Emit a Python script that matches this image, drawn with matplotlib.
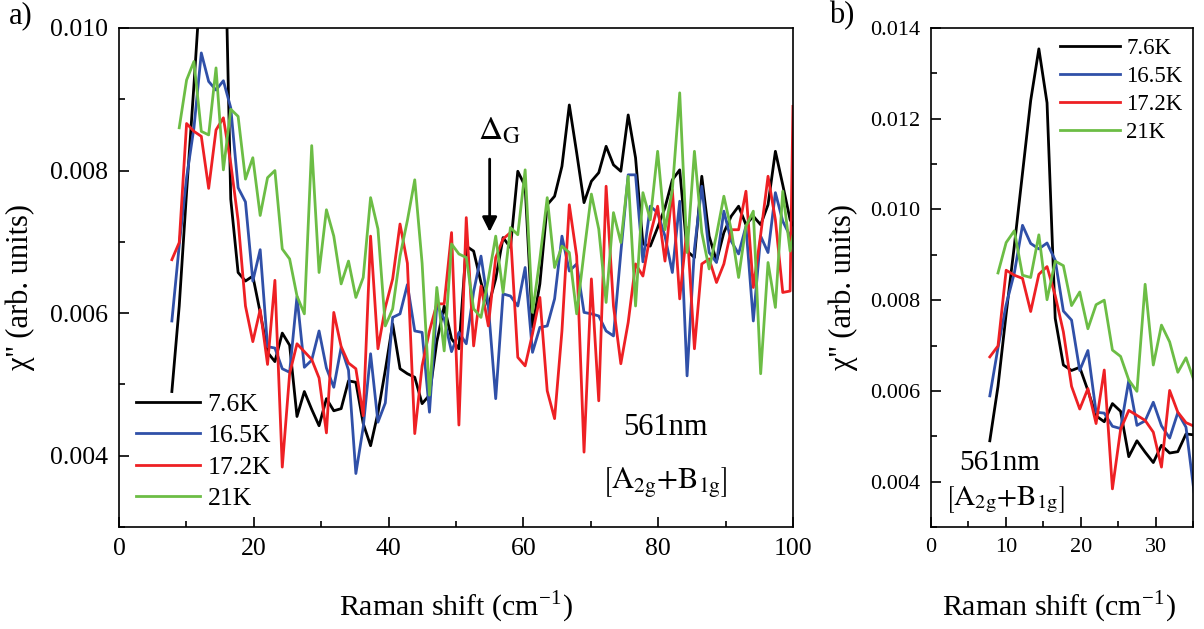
import numpy as np
import matplotlib
matplotlib.use('Agg')
import matplotlib.pyplot as plt
from matplotlib.ticker import MultipleLocator, FormatStrFormatter

plt.rcParams['font.family'] = ['Liberation Serif', 'DejaVu Serif']
plt.rcParams['mathtext.fontset'] = 'stix'

# Raman shift grid (cm-1), last point sits on the right edge
shift = np.append(7.85 + 1.092 * np.arange(85), 100.0)

# chi'' values in units of 1e-3 (arb. units)
chi_7p6K = [4.9, 6.1, 7.7, 9.2, 10.8, 12.4, 13.54, 12.35, 7.6, 6.57,
            6.45, 6.52, 6.01, 5.45, 5.32, 5.72, 5.55, 4.55, 4.9, 4.65,
            4.42, 4.80, 4.63, 4.66, 5.05, 5.03, 4.45, 4.14, 4.6, 5.2,
            5.85, 5.22, 5.15, 5.10, 4.73, 4.85, 5.6, 6.10, 5.64, 5.50,
            6.94, 6.87, 6.43, 6.10, 6.48, 7.06, 6.92, 7.99, 7.78, 5.80,
            6.41, 7.52, 7.64, 8.06, 8.92, 8.25, 7.55, 7.85, 7.97, 8.34,
            8.08, 7.99, 8.78, 8.18, 6.97, 6.94, 7.20, 7.48, 7.87, 8.01,
            6.87, 6.78, 7.92, 7.08, 6.73, 7.13, 7.36, 7.50, 7.24, 7.36,
            7.24, 7.52, 8.27, 7.80, 7.31, 7.24]
chi_16p5K = [5.89, 6.95, 7.9, 8.6, 9.65, 9.25, 9.13, 9.26, 8.88, 7.76,
             7.56, 6.45, 6.89, 5.53, 5.51, 5.22, 5.17, 6.23, 5.24, 5.34,
             5.75, 5.23, 4.96, 5.52, 5.2, 3.75, 4.40, 5.43, 4.47, 4.74,
             5.94, 5.99, 6.40, 5.75, 5.73, 4.61, 6.12, 5.92, 5.46, 5.73,
             5.57, 6.3, 6.80, 6.1, 4.80, 6.27, 6.24, 6.10, 6.64, 5.45,
             5.80, 5.82, 6.20, 7.08, 6.59, 6.69, 6.01, 5.99, 5.96, 5.75,
             5.68, 6.85, 7.94, 7.94, 6.72, 7.50, 7.41, 7.08, 6.57, 7.57,
             5.12, 6.9, 7.78, 6.85, 6.71, 7.43, 7.01, 6.83, 7.22, 5.89,
             7.08, 6.85, 7.69, 7.29, 7.08, 7.0]
chi_17p2K = [6.75, 6.99, 8.66, 8.55, 8.48, 7.75, 8.57, 8.74, 8.1, 7.3,
             6.1, 5.6, 6.05, 5.28, 6.46, 3.84, 5.15, 5.57, 5.46, 5.35,
             5.09, 4.32, 6.01, 5.53, 5.30, 5.22, 4.56, 7.08, 5.50, 6.08,
             6.48, 7.25, 6.70, 4.31, 5.26, 5.75, 6.13, 6.13, 7.13, 4.43,
             7.34, 5.54, 6.38, 5.82, 6.78, 7.04, 7.13, 5.38, 5.26, 5.71,
             6.22, 4.91, 4.52, 5.75, 7.52, 6.80, 4.05, 6.48, 4.77, 7.78,
             6.10, 5.29, 5.87, 6.69, 6.52, 7.1, 7.50, 6.73, 7.73, 6.20,
             7.2, 5.50, 6.69, 6.76, 6.43, 6.69, 7.17, 7.17, 7.71, 6.36,
             7.10, 7.92, 7.31, 6.29, 6.31, 8.9]
chi_21K = [np.nan, 8.60, 9.27, 9.53, 8.55, 8.50, 9.44, 8.01, 8.86, 8.76,
           7.88, 8.18, 7.37, 7.90, 8.00, 6.90, 6.76, 6.24, 5.99, 8.35,
           6.57, 7.45, 7.08, 6.41, 6.73, 6.22, 6.50, 7.62, 7.18, 5.82,
           6.06, 6.80, 7.30, 7.87, 6.70, 4.85, 6.36, 5.47, 6.97, 6.83,
           6.78, 6.06, 5.94, 6.48, 7.08, 6.29, 7.20, 7.10, 8.01, 6.01,
           6.76, 7.62, 6.64, 6.94, 6.85, 5.99, 6.85, 7.67, 7.18, 6.15,
           7.41, 6.99, 7.92, 6.10, 7.69, 7.31, 8.27, 7.17, 7.73, 9.09,
           6.85, 8.27, 7.13, 6.62, 7.1, 7.64, 7.17, 6.50, 7.22, 7.43,
           5.15, 6.71, 6.08, 7.71, 6.87, 7.08]

labels = ['7.6K', '16.5K', '17.2K', '21K']
colors = ['#000000', '#3050a8', '#ee2024', '#6cbd45']
series = [chi_7p6K, chi_16p5K, chi_17p2K, chi_21K]

fig = plt.figure(figsize=(12.04, 6.29), dpi=100)
ax_a = fig.add_axes([0.0988, 0.1622, 0.5598, 0.7933])
ax_b = fig.add_axes([0.7733, 0.1622, 0.2176, 0.7933])

for ax in (ax_a, ax_b):
    for vals, lab, col in zip(series, labels, colors):
        ax.plot(shift, np.array(vals) * 1e-3, color=col, lw=2, label=lab)
    for sp in ax.spines.values():
        sp.set_linewidth(1.2)
    ax.tick_params(which='both', direction='in', top=False, right=False, width=1.2)
    ax.tick_params(which='major', length=7)
    ax.tick_params(which='minor', length=4)
    ax.yaxis.set_major_formatter(FormatStrFormatter('%.3f'))
    ax.set_xlabel('Raman shift (cm$^{\\mathregular{-1}}$)', fontsize=21.5)
    ax.set_ylabel("χ'' (arb. units)", fontsize=22)

# panel a
ax_a.set_xlim(0, 100)
ax_a.set_ylim(0.003, 0.010)
ax_a.xaxis.set_major_locator(MultipleLocator(20))
ax_a.xaxis.set_minor_locator(MultipleLocator(10))
ax_a.yaxis.set_major_locator(MultipleLocator(0.002))
ax_a.yaxis.set_minor_locator(MultipleLocator(0.001))
ax_a.tick_params(which='major', labelsize=18.5, pad=8)
ax_a.xaxis.set_label_coords(0.5, -0.125)
ax_a.yaxis.set_label_coords(-0.125, 0.48)
ax_a.legend(loc='lower left', bbox_to_anchor=(0.0, 0.0), frameon=False, fontsize=18.5,
            handlelength=2.5, handletextpad=0.3, labelspacing=0.33, borderaxespad=0.25)
ax_a.text(0.81, 0.20, '561nm', transform=ax_a.transAxes, ha='center', va='center', fontsize=22)
ax_a.text(0.81, 0.088, r'$\left[\mathrm{A}_{\mathrm{2g}}\mathrm{+B}_{\mathrm{1g}}\right]$',
          transform=ax_a.transAxes, ha='center', va='center', fontsize=22)
ax_a.annotate('', xy=(55, 0.0071), xytext=(55, 0.0082),
              arrowprops=dict(arrowstyle='-|>', lw=2, color='k', mutation_scale=22))
ax_a.text(53.3, 0.00843, r'$\Delta_{\mathrm{G}}$', ha='left', va='baseline', fontsize=24)

# panel b
ax_b.set_xlim(0, 35)
ax_b.set_ylim(0.003, 0.014)
ax_b.xaxis.set_major_locator(MultipleLocator(10))
ax_b.xaxis.set_minor_locator(MultipleLocator(5))
ax_b.yaxis.set_major_locator(MultipleLocator(0.002))
ax_b.yaxis.set_minor_locator(MultipleLocator(0.001))
ax_b.tick_params(which='major', labelsize=16, pad=8)
ax_b.xaxis.set_label_coords(0.49, -0.125)
ax_b.yaxis.set_label_coords(-0.28, 0.48)
ax_b.legend(loc='upper right', frameon=False, fontsize=16.5,
            handlelength=2.6, handletextpad=0.3, labelspacing=0.3, borderaxespad=0.05)
ax_b.text(0.26, 0.128, '561nm', transform=ax_b.transAxes, ha='center', va='center', fontsize=21)
ax_b.text(0.28, 0.054, r'$\left[\mathrm{A}_{\mathrm{2g}}\mathrm{+B}_{\mathrm{1g}}\right]$',
          transform=ax_b.transAxes, ha='center', va='center', fontsize=21)

fig.text(0.017, 0.975, 'a)', ha='center', va='center', fontsize=22)
fig.text(0.699, 0.975, 'b)', ha='center', va='center', fontsize=22)

fig.savefig('out.png', dpi=100)
